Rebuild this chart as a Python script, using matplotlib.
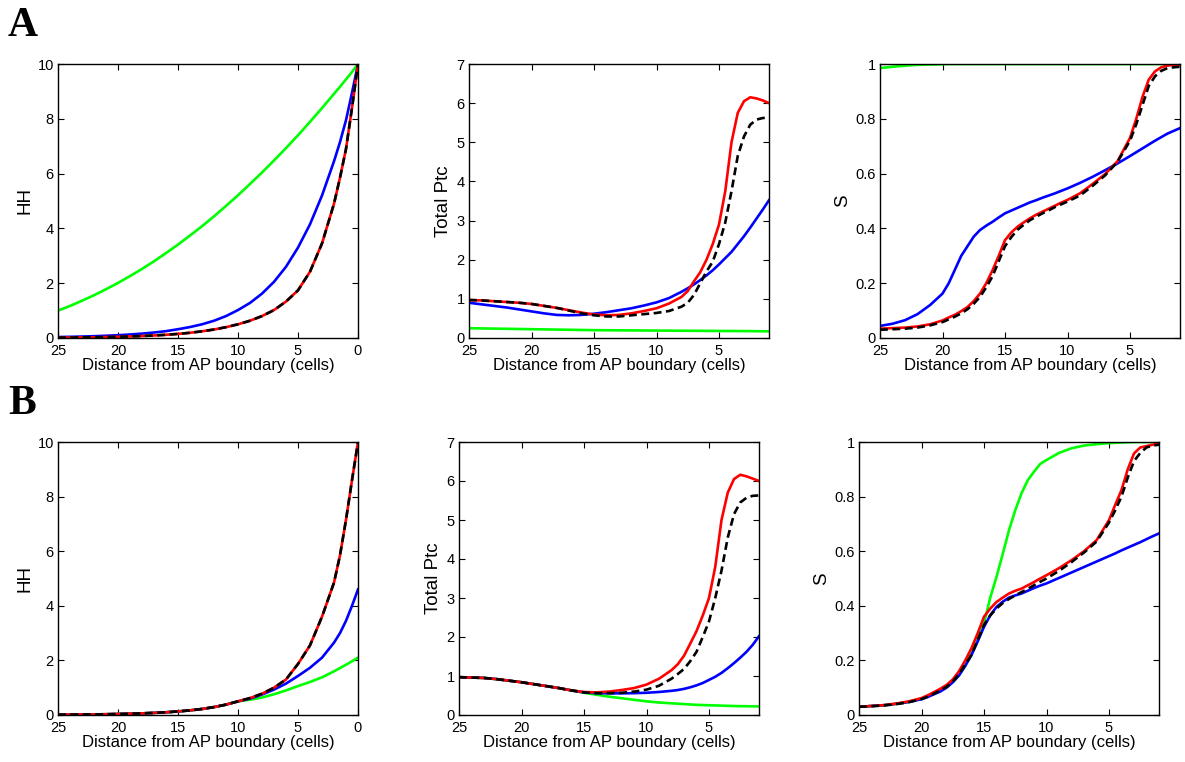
import matplotlib
matplotlib.use("Agg")
import matplotlib.pyplot as plt

plt.rcParams['font.family'] = ['Liberation Sans', 'DejaVu Sans']

# ---- x grids (distance from AP boundary, cells) ----
x_hh = [25, 24, 23, 22, 21, 20, 19, 18, 17, 16, 15, 14, 13, 12, 11, 10,
        9, 8, 7, 6, 5, 4, 3, 2, 1.5, 1, 0.5, 0]
x_ptc = [25, 24, 23, 22, 21, 20, 19, 18, 17, 16, 15, 14, 13, 12, 11, 10, 9,
         8, 7.5, 7, 6.5, 6, 5.5, 5, 4.5, 4, 3.5, 3, 2.5, 2, 1.5, 1]
x_s = [25, 24, 23, 22, 21, 20, 19.5, 19, 18.5, 18, 17.5, 17, 16.5, 16, 15.5, 15,
       14.5, 14, 13.5, 13, 12.5, 12, 11.5, 11, 10.5, 10, 9, 8, 7, 6, 5, 4.5, 4,
       3.5, 3, 2.5, 2, 1.5, 1]

# ---- A: HH ----
a_hh_green = [1.00, 1.17, 1.36, 1.56, 1.78, 2.01, 2.26, 2.52, 2.80, 3.10, 3.41, 3.74,
              4.08, 4.44, 4.82, 5.21, 5.62, 6.04, 6.48, 6.93, 7.40, 7.89, 8.39, 8.91,
              9.17, 9.44, 9.71, 10.0]
a_hh_blue = [0.035, 0.043, 0.053, 0.066, 0.082, 0.102, 0.128, 0.16, 0.2, 0.25, 0.32, 0.4,
             0.5, 0.63, 0.8, 1.02, 1.28, 1.62, 2.05, 2.6, 3.3, 4.15, 5.2, 6.45,
             7.15, 7.95, 8.95, 10.0]
a_hh_red = [0.013, 0.016, 0.021, 0.026, 0.033, 0.045, 0.057, 0.072, 0.092, 0.117, 0.15, 0.19,
            0.245, 0.31, 0.395, 0.5, 0.63, 0.8, 1.02, 1.33, 1.74, 2.42, 3.45, 4.9,
            5.85, 6.9, 8.4, 10.0]
a_hh_black = [0.013, 0.016, 0.021, 0.026, 0.033, 0.045, 0.057, 0.072, 0.092, 0.117, 0.15, 0.19,
              0.245, 0.31, 0.395, 0.5, 0.63, 0.8, 1.02, 1.33, 1.74, 2.42, 3.45, 4.9,
              5.85, 6.9, 8.4, 10.0]

# ---- A: Total Ptc ----
a_ptc_green = [0.25, 0.245, 0.24, 0.235, 0.23, 0.225, 0.22, 0.215, 0.21, 0.205, 0.2, 0.198,
               0.196, 0.194, 0.192, 0.19, 0.188, 0.186, 0.185, 0.184, 0.183, 0.182, 0.181,
               0.18, 0.179, 0.178, 0.177, 0.176, 0.175, 0.173, 0.172, 0.17]
a_ptc_blue = [0.9, 0.86, 0.82, 0.78, 0.73, 0.68, 0.63, 0.59, 0.58, 0.59, 0.62, 0.66, 0.71,
              0.76, 0.83, 0.91, 1.02, 1.18, 1.27, 1.37, 1.48, 1.6, 1.73, 1.88, 2.04, 2.2,
              2.4, 2.6, 2.82, 3.05, 3.28, 3.52]
a_ptc_red = [0.97, 0.96, 0.94, 0.92, 0.9, 0.87, 0.82, 0.77, 0.71, 0.65, 0.6, 0.58, 0.59,
             0.63, 0.69, 0.76, 0.88, 1.05, 1.2, 1.45, 1.68, 2.0, 2.4, 2.9, 3.75, 5.0,
             5.75, 6.05, 6.15, 6.12, 6.07, 6.0]
a_ptc_black = [0.97, 0.96, 0.94, 0.92, 0.9, 0.87, 0.82, 0.77, 0.7, 0.63, 0.58, 0.55, 0.55,
               0.58, 0.61, 0.64, 0.69, 0.8, 0.9, 1.1, 1.4, 1.7, 1.95, 2.4, 2.95, 3.75,
               4.65, 5.15, 5.45, 5.58, 5.62, 5.63]

# ---- A: S ----
a_s_green = [0.985, 0.99, 0.994, 0.997, 0.998, 0.999, 1.0, 1.0, 1.0, 1.0, 1.0, 1.0, 1.0,
             1.0, 1.0, 1.0, 1.0, 1.0, 1.0, 1.0, 1.0, 1.0, 1.0, 1.0, 1.0, 1.0, 1.0, 1.0,
             1.0, 1.0, 1.0, 1.0, 1.0, 1.0, 1.0, 1.0, 1.0, 1.0, 1.0]
a_s_blue = [0.044, 0.052, 0.065, 0.087, 0.12, 0.162, 0.2, 0.25, 0.3, 0.335, 0.37, 0.394,
            0.41, 0.424, 0.44, 0.455, 0.465, 0.475, 0.485, 0.495, 0.503, 0.512, 0.52,
            0.528, 0.537, 0.546, 0.566, 0.588, 0.612, 0.637, 0.664, 0.678, 0.692, 0.706,
            0.72, 0.733, 0.746, 0.756, 0.766]
a_s_red = [0.034, 0.036, 0.038, 0.042, 0.05, 0.064, 0.075, 0.085, 0.098, 0.113, 0.135,
           0.162, 0.2, 0.247, 0.3, 0.357, 0.385, 0.406, 0.422, 0.437, 0.45, 0.461, 0.472,
           0.483, 0.494, 0.504, 0.528, 0.562, 0.598, 0.645, 0.73, 0.8, 0.88, 0.943,
           0.973, 0.988, 0.994, 0.997, 0.998]
a_s_black = [0.03, 0.032, 0.034, 0.038, 0.046, 0.058, 0.068, 0.078, 0.09, 0.105, 0.125,
             0.15, 0.185, 0.225, 0.28, 0.335, 0.368, 0.395, 0.413, 0.43, 0.443, 0.455,
             0.466, 0.478, 0.488, 0.498, 0.52, 0.555, 0.593, 0.643, 0.72, 0.78, 0.85,
             0.92, 0.955, 0.975, 0.985, 0.988, 0.99]

# ---- B: HH ----
b_hh_green = [0.01, 0.013, 0.017, 0.022, 0.028, 0.036, 0.046, 0.06, 0.077, 0.1, 0.13, 0.17,
              0.22, 0.29, 0.38, 0.5, 0.56, 0.64, 0.76, 0.9, 1.06, 1.21, 1.38, 1.6,
              1.72, 1.84, 1.97, 2.1]
b_hh_blue = [0.01, 0.013, 0.017, 0.022, 0.028, 0.036, 0.046, 0.06, 0.077, 0.1, 0.13, 0.17,
             0.22, 0.29, 0.38, 0.5, 0.6, 0.75, 0.93, 1.15, 1.43, 1.73, 2.1, 2.65,
             3.0, 3.45, 4.0, 4.6]
b_hh_red = [0.01, 0.013, 0.017, 0.022, 0.028, 0.036, 0.046, 0.06, 0.077, 0.1, 0.13, 0.17,
            0.22, 0.29, 0.38, 0.5, 0.62, 0.78, 1.0, 1.3, 1.87, 2.55, 3.6, 4.85,
            5.85, 7.15, 8.6, 10.0]
b_hh_black = [0.01, 0.013, 0.017, 0.022, 0.028, 0.036, 0.046, 0.06, 0.077, 0.1, 0.13, 0.17,
              0.22, 0.29, 0.38, 0.5, 0.62, 0.78, 1.0, 1.3, 1.87, 2.55, 3.6, 4.85,
              5.85, 7.15, 8.6, 10.0]

# ---- B: Total Ptc ----
b_ptc_green = [0.97, 0.96, 0.95, 0.92, 0.88, 0.84, 0.79, 0.74, 0.69, 0.63, 0.57, 0.52,
               0.47, 0.43, 0.39, 0.35, 0.32, 0.3, 0.29, 0.28, 0.27, 0.26, 0.255, 0.25,
               0.245, 0.24, 0.235, 0.23, 0.227, 0.225, 0.222, 0.22]
b_ptc_blue = [0.97, 0.96, 0.95, 0.92, 0.88, 0.84, 0.79, 0.74, 0.69, 0.63, 0.58, 0.56,
              0.555, 0.555, 0.56, 0.57, 0.59, 0.62, 0.64, 0.67, 0.71, 0.76, 0.82, 0.9,
              0.98, 1.08, 1.2, 1.33, 1.47, 1.62, 1.8, 2.02]
b_ptc_red = [0.97, 0.96, 0.95, 0.92, 0.88, 0.84, 0.79, 0.74, 0.69, 0.63, 0.59, 0.58,
             0.6, 0.64, 0.69, 0.78, 0.93, 1.15, 1.3, 1.52, 1.83, 2.15, 2.55, 3.0, 3.8,
             5.0, 5.7, 6.05, 6.16, 6.12, 6.06, 6.0]
b_ptc_black = [0.97, 0.96, 0.95, 0.92, 0.88, 0.84, 0.79, 0.74, 0.69, 0.63, 0.58, 0.56,
               0.56, 0.57, 0.6, 0.65, 0.75, 0.93, 1.05, 1.18, 1.38, 1.62, 2.0, 2.4, 3.0,
               3.7, 4.55, 5.15, 5.45, 5.57, 5.62, 5.63]

# ---- B: S ----
b_s_green = [0.03, 0.033, 0.036, 0.041, 0.048, 0.06, 0.07, 0.08, 0.09, 0.103, 0.12, 0.145,
             0.18, 0.225, 0.28, 0.335, 0.43, 0.506, 0.59, 0.677, 0.75, 0.812, 0.86, 0.891,
             0.92, 0.934, 0.96, 0.977, 0.987, 0.992, 0.996, 0.997, 0.998, 0.999, 1.0,
             1.0, 1.0, 1.0, 1.0]
b_s_blue = [0.03, 0.033, 0.036, 0.041, 0.048, 0.058, 0.066, 0.076, 0.086, 0.1, 0.12, 0.145,
            0.18, 0.22, 0.27, 0.323, 0.365, 0.396, 0.415, 0.43, 0.438, 0.445, 0.455,
            0.465, 0.474, 0.482, 0.502, 0.522, 0.542, 0.562, 0.582, 0.592, 0.603, 0.613,
            0.623, 0.633, 0.644, 0.655, 0.665]
b_s_red = [0.03, 0.033, 0.036, 0.042, 0.05, 0.062, 0.072, 0.084, 0.096, 0.11, 0.13, 0.16,
           0.2, 0.245, 0.3, 0.36, 0.39, 0.414, 0.43, 0.445, 0.455, 0.463, 0.475, 0.487,
           0.5, 0.512, 0.538, 0.567, 0.6, 0.64, 0.714, 0.77, 0.824, 0.9, 0.958, 0.98,
           0.985, 0.99, 0.995]
b_s_black = [0.03, 0.032, 0.035, 0.04, 0.047, 0.058, 0.067, 0.078, 0.09, 0.103, 0.122,
             0.15, 0.185, 0.22, 0.275, 0.33, 0.365, 0.39, 0.41, 0.425, 0.438, 0.45, 0.462,
             0.475, 0.488, 0.5, 0.528, 0.56, 0.595, 0.635, 0.705, 0.75, 0.8, 0.87, 0.93,
             0.96, 0.98, 0.987, 0.99]

XLABEL = 'Distance from AP boundary (cells)'


def draw_panel(ax, x, green, blue, red, black, ylabel, ylim, yticks, yticklabels, xlim, xticks):
    ax.plot(x, green, color=(0, 1, 0), lw=1.9)
    ax.plot(x, blue, color=(0, 0, 1), lw=1.9)
    ax.plot(x, red, color=(1, 0, 0), lw=1.9)
    ax.plot(x, black, color='black', lw=1.9, linestyle=(0, (3.0, 1.7)))
    ax.set_xlim(*xlim)
    ax.set_ylim(*ylim)
    ax.set_xticks(xticks)
    ax.set_xticklabels([str(t) for t in xticks])
    ax.set_yticks(yticks)
    ax.set_yticklabels(yticklabels)
    ax.tick_params(direction='in', top=True, right=True, length=4, width=0.8,
                   labelsize=10.5)
    ax.tick_params(axis='x', pad=4.5)
    ax.tick_params(axis='y', pad=3)
    ax.set_xlabel(XLABEL, fontsize=12, labelpad=0)
    ax.set_ylabel(ylabel, fontsize=13.5, labelpad=3)
    for sp in ax.spines.values():
        sp.set_linewidth(1.0)


fig = plt.figure(figsize=(11.85, 7.62), dpi=100)

W = 300 / 1185
H_A = 274 / 762
H_B = 273 / 762
bot_A = 1 - 338 / 762
bot_B = 1 - 715 / 762

ax_a1 = fig.add_axes([58 / 1185, bot_A, W, H_A])
ax_a2 = fig.add_axes([469 / 1185, bot_A, W, H_A])
ax_a3 = fig.add_axes([880 / 1185, bot_A, W, H_A])
ax_b1 = fig.add_axes([58 / 1185, bot_B, W, H_B])
ax_b2 = fig.add_axes([459 / 1185, bot_B, W, H_B])
ax_b3 = fig.add_axes([859 / 1185, bot_B, W, H_B])

hh_ticks = [0, 2, 4, 6, 8, 10]
ptc_ticks = [0, 1, 2, 3, 4, 5, 6, 7]
s_ticks = [0, 0.2, 0.4, 0.6, 0.8, 1]
s_labels = ['0', '0.2', '0.4', '0.6', '0.8', '1']

draw_panel(ax_a1, x_hh, a_hh_green, a_hh_blue, a_hh_red, a_hh_black, 'HH', (0, 10),
           hh_ticks, [str(t) for t in hh_ticks], (25, 0), [25, 20, 15, 10, 5, 0])
draw_panel(ax_a2, x_ptc, a_ptc_green, a_ptc_blue, a_ptc_red, a_ptc_black, 'Total Ptc', (0, 7),
           ptc_ticks, [str(t) for t in ptc_ticks], (25, 1), [25, 20, 15, 10, 5])
draw_panel(ax_a3, x_s, a_s_green, a_s_blue, a_s_red, a_s_black, 'S', (0, 1),
           s_ticks, s_labels, (25, 1), [25, 20, 15, 10, 5])
draw_panel(ax_b1, x_hh, b_hh_green, b_hh_blue, b_hh_red, b_hh_black, 'HH', (0, 10),
           hh_ticks, [str(t) for t in hh_ticks], (25, 0), [25, 20, 15, 10, 5, 0])
draw_panel(ax_b2, x_ptc, b_ptc_green, b_ptc_blue, b_ptc_red, b_ptc_black, 'Total Ptc', (0, 7),
           ptc_ticks, [str(t) for t in ptc_ticks], (25, 1), [25, 20, 15, 10, 5])
draw_panel(ax_b3, x_s, b_s_green, b_s_blue, b_s_red, b_s_black, 'S', (0, 1),
           s_ticks, s_labels, (25, 1), [25, 20, 15, 10, 5])

# panel letters
fig.text(8 / 1185, 1 - 36 / 762, 'A', family=['Liberation Serif', 'DejaVu Serif'],
         fontsize=30, fontweight='bold', ha='left', va='baseline')
fig.text(8 / 1185, 1 - 414 / 762, 'B', family=['Liberation Serif', 'DejaVu Serif'],
         fontsize=30, fontweight='bold', ha='left', va='baseline')

fig.savefig('out.png', dpi=100)
